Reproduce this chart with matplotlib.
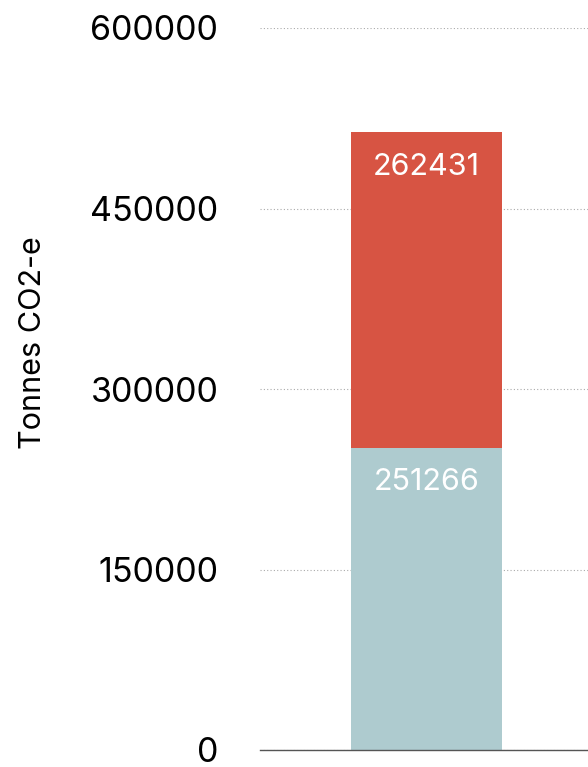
import matplotlib
matplotlib.use("Agg")
import matplotlib.pyplot as plt

plt.rcParams['font.family'] = ['Inter', 'DejaVu Sans']

# stacked emissions, one column
categories = [""]
lower_vals = [251266]
upper_vals = [262431]
yticks = [0, 150000, 300000, 450000, 600000]

lower_color = "#aecbcf"
upper_color = "#d75443"

fig = plt.figure(figsize=(5.88, 7.67), dpi=100)
ax = fig.add_axes([260 / 588, 17 / 767, 333 / 588, 722 / 767])

x = range(len(categories))
ax.bar(x, lower_vals, width=0.453, color=lower_color, zorder=2)
ax.bar(x, upper_vals, bottom=lower_vals, width=0.453, color=upper_color, zorder=2)

# value labels sit just inside the top of each segment
for i in x:
    ax.annotate(str(lower_vals[i]), (i, lower_vals[i]), xytext=(0, -25),
                textcoords="offset points", ha="center", va="center",
                color="white", fontsize=22, zorder=3)
    ax.annotate(str(upper_vals[i]), (i, lower_vals[i] + upper_vals[i]), xytext=(0, -25),
                textcoords="offset points", ha="center", va="center",
                color="white", fontsize=22, zorder=3)

ax.set_xlim(-0.5, 0.5)
ax.set_ylim(0, 600000)
ax.set_yticks(yticks)
ax.set_yticklabels([str(t) for t in yticks], fontsize=24.5)
ax.set_xticks([])
ax.tick_params(axis="y", length=0, pad=30)
ax.yaxis.grid(True, linestyle=(0, (1, 2)), color="#aaaaaa", linewidth=0.8, zorder=0)
ax.set_axisbelow(True)
for side in ["top", "right", "left"]:
    ax.spines[side].set_visible(False)
ax.spines["bottom"].set_color("#555555")
ax.spines["bottom"].set_linewidth(1.0)
ax.spines["bottom"].set_zorder(3)

ax.set_ylabel("Tonnes CO2-e", fontsize=22)
ax.yaxis.set_label_coords(-0.64, 0.564)

fig.savefig("out.png", dpi=100)
